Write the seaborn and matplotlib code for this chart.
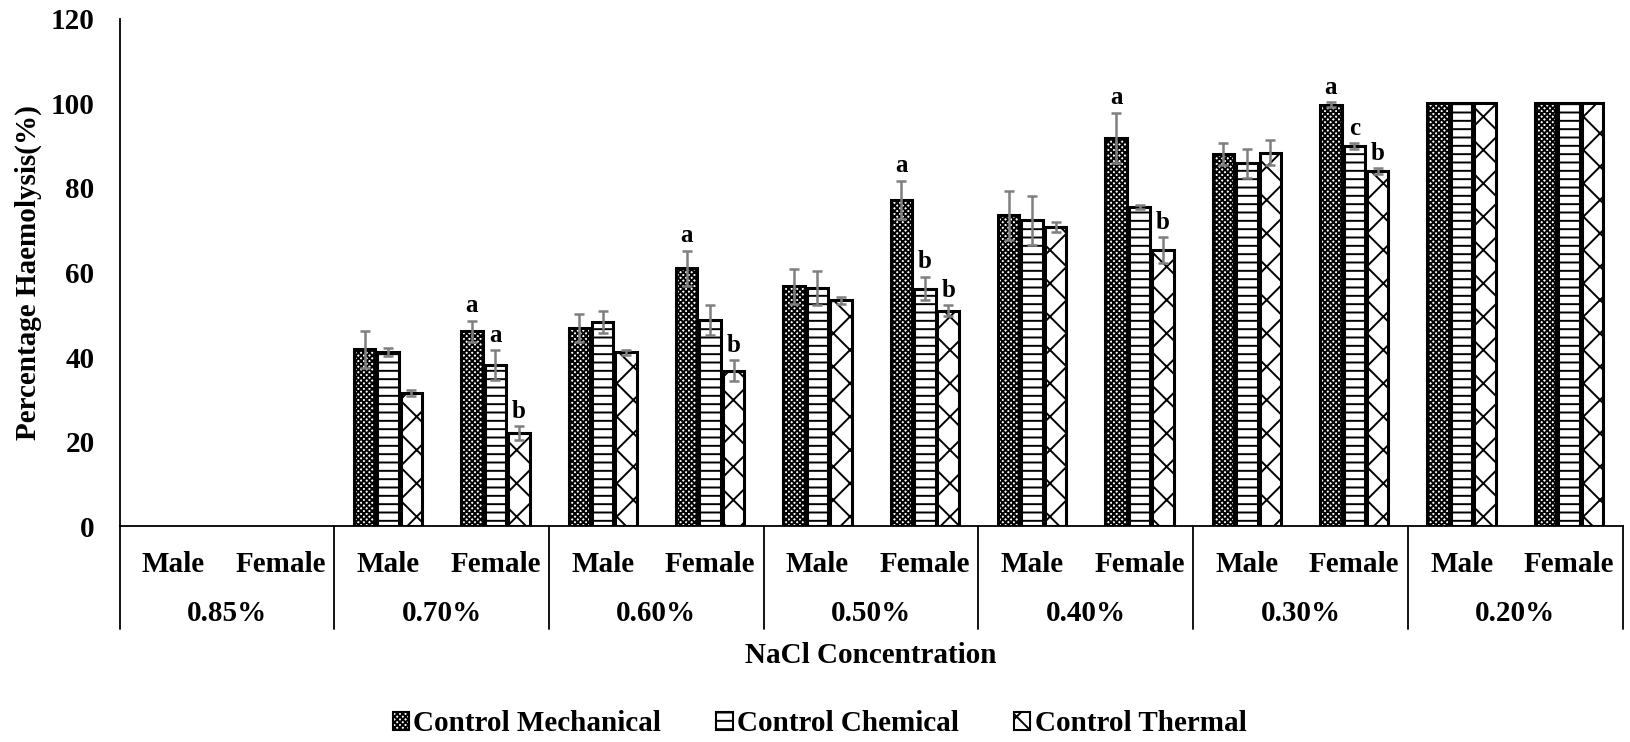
import numpy as np
import pandas as pd
import matplotlib
matplotlib.use("Agg")
import matplotlib.pyplot as plt
import matplotlib.transforms as mtransforms
from matplotlib.patches import Patch
import seaborn as sns

# NaCl concentrations and sexes
concentrations = ["0.85%", "0.70%", "0.60%", "0.50%", "0.40%", "0.30%", "0.20%"]
sexes = ["Male", "Female"]
treatments = ["Control Mechanical", "Control Chemical", "Control Thermal"]

# Mean haemolysis (%) per (concentration, sex), ordered Male, Female per concentration
mechanical = [0, 0, 41.8, 46.1, 46.8, 61.0, 56.7, 77.2, 73.5, 91.8, 88.0, 99.7, 100, 100]
chemical = [0, 0, 41.2, 38.1, 48.4, 48.8, 56.4, 56.2, 72.3, 75.5, 85.8, 89.9, 100, 100]
thermal = [0, 0, 31.5, 22.0, 41.1, 36.8, 53.4, 50.9, 70.8, 65.3, 88.3, 84.0, 100, 100]

# Standard errors
err_mechanical = [0, 0, 4.3, 2.5, 3.3, 4.2, 4.2, 4.5, 5.8, 6.0, 2.6, 0.5, 0, 0]
err_chemical = [0, 0, 1.0, 3.5, 2.6, 3.6, 4.0, 2.8, 5.8, 0.5, 3.5, 0.7, 0, 0]
err_thermal = [0, 0, 0.8, 1.7, 0.5, 2.5, 0.8, 1.3, 1.2, 3.1, 3.0, 0.7, 0, 0]

# Significance letters
letters_mechanical = ["", "", "", "a", "", "a", "", "a", "", "a", "", "a", "", ""]
letters_chemical = ["", "", "", "a", "", "", "", "b", "", "", "", "c", "", ""]
letters_thermal = ["", "", "", "b", "", "b", "", "b", "", "b", "", "b", "", ""]

hatches = ["xxxxxx", "--", "x"]

sns.set_style("white")
plt.rcParams["font.family"] = ["Liberation Serif", "DejaVu Serif"]
plt.rcParams["font.weight"] = "bold"
plt.rcParams["text.color"] = "black"
plt.rcParams["axes.labelcolor"] = "black"
plt.rcParams["xtick.color"] = "black"
plt.rcParams["ytick.color"] = "black"
plt.rcParams["hatch.linewidth"] = 1.4
FS = 21

groups = [f"{c} {s}" for c in concentrations for s in sexes]
rows = []
for t, vals in zip(treatments, [mechanical, chemical, thermal]):
    for g, v in zip(groups, vals):
        rows.append({"group": g, "treatment": t, "value": v})
df = pd.DataFrame(rows)

fig = plt.figure(figsize=(16.31, 7.42), dpi=100)
ax = fig.add_axes([0.0733, 0.2907, 0.9216, 0.6841])

sns.barplot(data=df, x="group", y="value", hue="treatment", order=groups,
            hue_order=treatments, width=0.655, gap=0.083, errorbar=None,
            palette={t: "white" for t in treatments}, saturation=1,
            edgecolor="black", linewidth=2.2, legend=False, ax=ax)

errs = [err_mechanical, err_chemical, err_thermal]
letters = [letters_mechanical, letters_chemical, letters_thermal]
for container, hatch, err, labs in zip(ax.containers, hatches, errs, letters):
    xs, ys, es = [], [], []
    for patch, e, lab in zip(container.patches, err, labs):
        patch.set_hatch(hatch)
        h = patch.get_height()
        if h <= 0:
            patch.set_visible(False)
            continue
        x = patch.get_x() + patch.get_width() / 2
        if e > 0:
            xs.append(x); ys.append(h); es.append(e)
        if lab:
            ax.annotate(lab, (x, h + e), xytext=(0, 6), textcoords="offset points",
                        ha="center", va="baseline", fontsize=18, fontweight="bold",
                        color="black")
    ax.errorbar(xs, ys, yerr=es, fmt="none", ecolor="#7f7f7f", elinewidth=1.8,
                capsize=3.5, capthick=1.8, zorder=5)

ax.set_xlim(-0.5, len(groups) - 0.5)
ax.set_ylim(0, 120)
ax.set_yticks(range(0, 121, 20))
ax.set_xticks([])
ax.set_xlabel("")
ax.set_ylabel("")
ax.tick_params(axis="y", length=0, pad=18, labelsize=FS, labelcolor="black")
for lbl in ax.get_yticklabels():
    lbl.set_fontweight("bold")
for side in ["top", "right"]:
    ax.spines[side].set_visible(False)
for side in ["left", "bottom"]:
    ax.spines[side].set_color("black")
    ax.spines[side].set_linewidth(1.3)

# Two-level category axis
trans = mtransforms.blended_transform_factory(ax.transData, ax.transAxes)
for i, g in enumerate(groups):
    ax.text(i, -0.0745, sexes[i % 2], transform=trans, ha="center", va="center",
            fontsize=FS, fontweight="bold", color="black")
for j, c in enumerate(concentrations):
    ax.text(2 * j + 0.5, -0.172, c, transform=trans, ha="center", va="center",
            fontsize=FS, fontweight="bold", color="black")
for b in np.arange(-0.5, len(groups), 2):
    ax.plot([b, b], [0, -0.203], transform=trans, color="black", lw=1.3,
            clip_on=False)

fig.text(0.534, 0.117, "NaCl Concentration", ha="center", va="center",
         fontsize=FS, fontweight="bold", color="black")
fig.text(0.0172, 0.632, "Percentage Haemolysis(%)", rotation=90, ha="center",
         va="center", fontsize=FS, fontweight="bold", color="black")

handles = [Patch(facecolor="white", edgecolor="black", hatch=h, linewidth=1.5)
           for h in hatches]
fig.legend(handles, treatments, loc="center", bbox_to_anchor=(0.5025, 0.0243),
           ncol=3, frameon=False, handlelength=0.55,
           handleheight=0.55, handletextpad=0.15, columnspacing=1.9,
           labelcolor="black", prop={"weight": "bold", "size": FS})

fig.savefig("out.png", dpi=100)
